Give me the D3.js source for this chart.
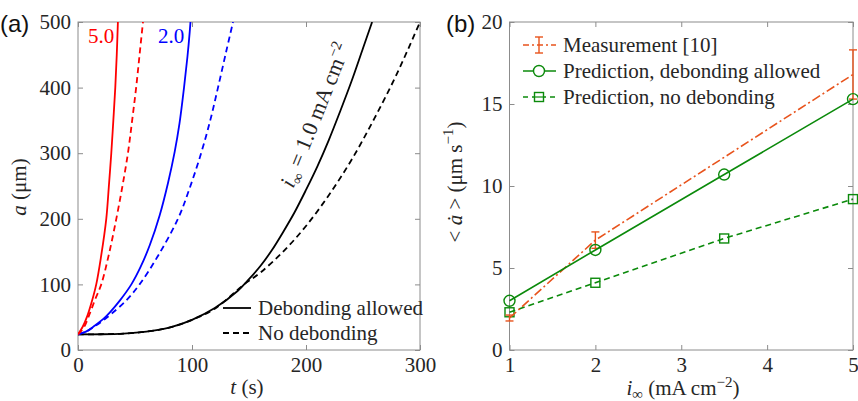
<!DOCTYPE html>
<html>
<head>
<meta charset="utf-8">
<script src="https://cdn.jsdelivr.net/npm/d3@7"></script>
<style>
  body { margin: 0; background: #fff; }
  svg { display: block; }
  text { font-family: "Liberation Serif", "Times New Roman", serif; fill: #262626; }
</style>
</head>
<body>
<script>
// -------------------- DATA: panel (a), a(t) as [t (s), a (um)] --------------------
var red5Solid  = [[0,24],[4,35],[8.2,52],[12,73],[16,100],[20,140],[24.8,200],[27,248],[29.2,300],[31,350],[32.7,400],[34,450],[35,500]];
var red5Dash   = [[0,24],[5,34],[10.2,55],[15,77],[20.4,100],[27,145],[33.6,200],[39,250],[43.8,300],[47.5,350],[51,400],[54,450],[57,500]];
var blue2Solid = [[0,24],[7,28],[14.6,37],[22,47],[27.8,57],[37,76],[46.8,100],[55,127],[63,160],[71.6,205],[79,255],[84.8,302],[89,345],[93,400],[96,447],[98,485],[99.5,520]];
var blue2Dash  = [[0,24],[7,28],[14.6,36],[22,45],[29.2,55],[42,75],[54,100],[70,143],[87.7,200],[98,247],[108,300],[116,350],[122.8,400],[130,455],[136,500]];
var black1Solid = [[0,24],[20,24],[40,25],[60,28],[80,34],[100,46],[120,64],[140,90],[150,108],[160,128],[170,152],[180,180],[190,210],[200,244],[210,280],[220,320],[230,364],[240,410],[250,460],[258,500]];
var black1Dash  = [[0,24],[20,24],[40,25],[60,28],[80,34],[100,46],[120,63],[145,99],[160,118],[180,150],[200,189],[220,236],[240,290],[260,353],[280,422],[300,500]];

var tTicks = [0, 100, 200, 300];
var aTicks = [0, 100, 200, 300, 400, 500];

// -------------------- DATA: panel (b) --------------------
var iInf = [1, 2, 3.5, 5];
var predDebond = [3.0, 6.1, 10.7, 15.3];
var predNoDebond = [2.3, 4.1, 6.8, 9.2];
var measI = [1, 2, 5];
var measRate = [1.95, 6.7, 16.8];
var measErr = [0.18, 0.5, 1.5];

var iTicks = [1, 2, 3, 4, 5];
var rateTicks = [0, 5, 10, 15, 20];

// -------------------- COLORS --------------------
var cRed = "#ff0000", cBlue = "#0000ff", cBlack = "#000000";
var cMeas = "#e8531c", cGreen = "#0b8a0b", cAxis = "#8c8c8c";

// -------------------- SVG --------------------
var W = 858, H = 401;
var svg = d3.select("body").append("svg").attr("width", W).attr("height", H);

var plotTop = 22, plotBottom = 350;
var panelA = { left: 78, right: 420 };
var panelB = { left: 509.5, right: 853 };

function styleAxis(g) {
  g.select(".domain").remove();
  g.selectAll(".tick line").attr("stroke", cAxis);
  g.selectAll(".tick text")
    .style("font-family", '"Liberation Serif", serif')
    .attr("font-size", 21).attr("fill", "#262626");
}

function drawFrame(xs, ys, xt, yt, clipId) {
  var x0 = xs.range()[0], x1 = xs.range()[1];
  // inside ticks on all four sides, labels only bottom/left
  svg.append("g").attr("transform", "translate(0," + plotBottom + ")")
    .call(d3.axisBottom(xs).tickValues(xt).tickSize(-5).tickPadding(7).tickFormat(d3.format("d")))
    .call(styleAxis);
  svg.append("g").attr("transform", "translate(0," + plotTop + ")")
    .call(d3.axisTop(xs).tickValues(xt).tickSize(-5).tickFormat(""))
    .call(styleAxis);
  svg.append("g").attr("transform", "translate(" + x0 + ",0)")
    .call(d3.axisLeft(ys).tickValues(yt).tickSize(-5).tickPadding(7))
    .call(styleAxis);
  svg.append("g").attr("transform", "translate(" + x1 + ",0)")
    .call(d3.axisRight(ys).tickValues(yt).tickSize(-5).tickFormat(""))
    .call(styleAxis);
  svg.append("rect").attr("x", x0).attr("y", plotTop)
    .attr("width", x1 - x0).attr("height", plotBottom - plotTop)
    .attr("fill", "none").attr("stroke", cAxis).attr("stroke-width", 1);
  svg.append("clipPath").attr("id", clipId).append("rect")
    .attr("x", x0).attr("y", plotTop).attr("width", x1 - x0).attr("height", plotBottom - plotTop);
}

// -------------------- PANEL (a) --------------------
var xA = d3.scaleLinear().domain([0, 300]).range([panelA.left, panelA.right]);
var yA = d3.scaleLinear().domain([0, 500]).range([plotBottom, plotTop]);
drawFrame(xA, yA, tTicks, aTicks, "clipA");

var lineA = d3.line().x(function(d){ return xA(d[0]); }).y(function(d){ return yA(d[1]); })
  .curve(d3.curveCatmullRom.alpha(0.5));

var curvesA = [
  { d: black1Dash, c: cBlack, dash: "6,4" },
  { d: black1Solid, c: cBlack, dash: null },
  { d: blue2Dash, c: cBlue, dash: "6,4" },
  { d: blue2Solid, c: cBlue, dash: null },
  { d: red5Dash, c: cRed, dash: "6,4" },
  { d: red5Solid, c: cRed, dash: null }
];
var gA = svg.append("g").attr("clip-path", "url(#clipA)");
curvesA.forEach(function(s) {
  gA.append("path").attr("d", lineA(s.d))
    .attr("fill", "none").attr("stroke", s.c).attr("stroke-width", 1.8)
    .attr("stroke-dasharray", s.dash);
});

// curve labels
svg.append("text").attr("x", 101).attr("y", 43).attr("text-anchor", "middle")
  .attr("font-size", 21).style("fill", cRed).text("5.0");
svg.append("text").attr("x", 171).attr("y", 43).attr("text-anchor", "middle")
  .attr("font-size", 21).style("fill", cBlue).text("2.0");

var rot = svg.append("text").attr("font-size", 22).attr("text-anchor", "middle")
  .attr("transform", "translate(322,118) rotate(-68)");
rot.append("tspan").style("font-style", "italic").text("i");
rot.append("tspan").attr("font-size", 15).attr("dy", 5).text("\u221e");
rot.append("tspan").attr("dy", -5).text(" = 1.0 mA cm");
rot.append("tspan").attr("font-size", 15).attr("dy", -9).text("\u22122");

// legend (a)
var legA = [{ t: "Debonding allowed", dash: null }, { t: "No debonding", dash: "6,4" }];
legA.forEach(function(l, i) {
  var yy = 308 + i * 25;
  svg.append("line").attr("x1", 223).attr("x2", 251).attr("y1", yy).attr("y2", yy)
    .attr("stroke", cBlack).attr("stroke-width", 1.8).attr("stroke-dasharray", l.dash);
  svg.append("text").attr("x", 258).attr("y", yy + 7).attr("font-size", 21).text(l.t);
});

// axis titles (a)
var tx = svg.append("text").attr("x", 247).attr("y", 394).attr("text-anchor", "middle").attr("font-size", 21);
tx.append("tspan").style("font-style", "italic").text("t");
tx.append("tspan").text(" (s)");
var ty = svg.append("text").attr("text-anchor", "middle").attr("font-size", 21)
  .attr("transform", "translate(26,187) rotate(-90)");
ty.append("tspan").style("font-style", "italic").text("a");
ty.append("tspan").text(" (\u03bcm)");

svg.append("text").attr("x", 0).attr("y", 32).attr("font-size", 24)
  .style("font-family", '"Liberation Sans", Arial, sans-serif').style("fill", "#111").text("(a)");

// -------------------- PANEL (b) --------------------
var xB = d3.scaleLinear().domain([1, 5]).range([panelB.left, panelB.right]);
var yB = d3.scaleLinear().domain([0, 20]).range([plotBottom, plotTop]);
drawFrame(xB, yB, iTicks, rateTicks, "clipB");

var gB = svg.append("g");
var lineB = d3.line().x(function(d){ return xB(d[0]); }).y(function(d){ return yB(d[1]); });

// no debonding (dashed, squares)
var noDeb = iInf.map(function(v, i){ return [v, predNoDebond[i]]; });
gB.append("path").attr("d", lineB(noDeb)).attr("fill", "none")
  .attr("stroke", cGreen).attr("stroke-width", 1.6).attr("stroke-dasharray", "6,4");
gB.selectAll(".sq").data(noDeb).enter().append("rect")
  .attr("x", function(d){ return xB(d[0]) - 4.5; }).attr("y", function(d){ return yB(d[1]) - 4.5; })
  .attr("width", 9).attr("height", 9).attr("fill", "none").attr("stroke", cGreen).attr("stroke-width", 1.4);

// measurement (dash-dot with error bars)
var meas = measI.map(function(v, i){ return [v, measRate[i], measErr[i]]; });
gB.append("path").attr("d", lineB(meas)).attr("fill", "none")
  .attr("stroke", cMeas).attr("stroke-width", 1.6).attr("stroke-dasharray", "9,3,2,3");
meas.forEach(function(d) {
  var x = xB(d[0]), y1 = yB(d[1] + d[2]), y0 = yB(d[1] - d[2]);
  gB.append("line").attr("x1", x).attr("x2", x).attr("y1", y0).attr("y2", y1)
    .attr("stroke", cMeas).attr("stroke-width", 1.4);
  [y0, y1].forEach(function(yy) {
    gB.append("line").attr("x1", x - 4).attr("x2", x + 4).attr("y1", yy).attr("y2", yy)
      .attr("stroke", cMeas).attr("stroke-width", 1.4);
  });
});

// debonding allowed (solid, circles)
var deb = iInf.map(function(v, i){ return [v, predDebond[i]]; });
gB.append("path").attr("d", lineB(deb)).attr("fill", "none")
  .attr("stroke", cGreen).attr("stroke-width", 1.6);
gB.selectAll(".ci").data(deb).enter().append("circle")
  .attr("cx", function(d){ return xB(d[0]); }).attr("cy", function(d){ return yB(d[1]); })
  .attr("r", 5.5).attr("fill", "none").attr("stroke", cGreen).attr("stroke-width", 1.4);

// legend (b)
var legB = [
  { t: "Measurement [10]", c: cMeas, dash: "6,3,2,3", m: "err" },
  { t: "Prediction, debonding allowed", c: cGreen, dash: null, m: "circle" },
  { t: "Prediction, no debonding", c: cGreen, dash: "5,4", m: "square" }
];
legB.forEach(function(l, i) {
  var yy = 45 + i * 26, xm = 539;
  svg.append("line").attr("x1", 523).attr("x2", 556).attr("y1", yy).attr("y2", yy)
    .attr("stroke", l.c).attr("stroke-width", 1.6).attr("stroke-dasharray", l.dash);
  if (l.m === "circle") {
    svg.append("circle").attr("cx", xm).attr("cy", yy).attr("r", 5.5)
      .attr("fill", "#fff").attr("stroke", l.c).attr("stroke-width", 1.4);
  } else if (l.m === "square") {
    svg.append("rect").attr("x", xm - 4.5).attr("y", yy - 4.5).attr("width", 9).attr("height", 9)
      .attr("fill", "#fff").attr("stroke", l.c).attr("stroke-width", 1.4);
    svg.append("line").attr("x1", xm - 4.5).attr("x2", xm + 4.5).attr("y1", yy).attr("y2", yy)
      .attr("stroke", l.c).attr("stroke-width", 1.2);
  } else {
    svg.append("line").attr("x1", xm).attr("x2", xm).attr("y1", yy - 8).attr("y2", yy + 8)
      .attr("stroke", l.c).attr("stroke-width", 1.4);
    [yy - 8, yy + 8].forEach(function(q) {
      svg.append("line").attr("x1", xm - 4).attr("x2", xm + 4).attr("y1", q).attr("y2", q)
        .attr("stroke", l.c).attr("stroke-width", 1.4);
    });
  }
  svg.append("text").attr("x", 563).attr("y", yy + 7).attr("font-size", 21).text(l.t);
});

// axis titles (b)
var bx = svg.append("text").attr("x", 683).attr("y", 395).attr("text-anchor", "middle").attr("font-size", 21);
bx.append("tspan").style("font-style", "italic").text("i");
bx.append("tspan").attr("font-size", 15).attr("dy", 4).text("\u221e");
bx.append("tspan").attr("dy", -4).text(" (mA cm");
bx.append("tspan").attr("font-size", 15).attr("dy", -8).text("\u22122");
bx.append("tspan").attr("dy", 8).text(")");

var by = svg.append("text").attr("text-anchor", "middle").attr("font-size", 21)
  .attr("transform", "translate(462,182) rotate(-90)");
by.append("tspan").text("< ");
by.append("tspan").style("font-style", "italic").text("\u0227");
by.append("tspan").text(" >  (\u03bcm s");
by.append("tspan").attr("font-size", 15).attr("dy", -9).text("\u22121");
by.append("tspan").attr("dy", 9).text(")");

svg.append("text").attr("x", 446).attr("y", 32).attr("font-size", 24)
  .style("font-family", '"Liberation Sans", Arial, sans-serif').style("fill", "#111").text("(b)");
</script>
</body>
</html>
